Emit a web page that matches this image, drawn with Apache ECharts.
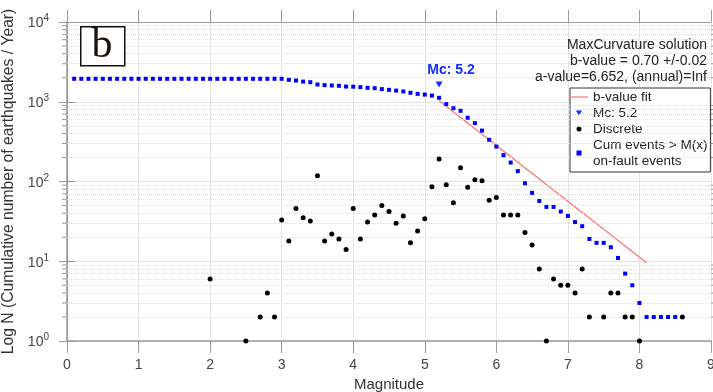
<!DOCTYPE html>
<html>
<head>
<meta charset="utf-8">
<script src="https://cdn.jsdelivr.net/npm/echarts@6/dist/echarts.min.js"></script>
<style>
html,body{margin:0;padding:0;background:#fff;}
#c{width:713px;height:392px;}
</style>
</head>
<body>
<div id="c"></div>
<script>
// ---- data ----
var xTicks = [0,1,2,3,4,5,6,7,8,9];
var yTickExp = [0,1,2,3,4];

// cumulative events > M(x), [magnitude, N/yr]
var cumMag = [0.1,0.2,0.3,0.4,0.5,0.6,0.7,0.8,0.9,1.0,
              1.1,1.2,1.3,1.4,1.5,1.6,1.7,1.8,1.9,2.0,
              2.1,2.2,2.3,2.4,2.5,2.6,2.7,2.8,2.9,3.0,
              3.1,3.2,3.3,3.4,3.5,3.6,3.7,3.8,3.9,4.0,
              4.1,4.2,4.3,4.4,4.5,4.6,4.7,4.8,4.9,5.0,
              5.1,5.2,5.3,5.4,5.5,5.6,5.7,5.8,5.9,6.0,
              6.1,6.2,6.3,6.4,6.5,6.6,6.7,6.8,6.9,7.0,
              7.1,7.2,7.3,7.4,7.5,7.6,7.7,7.8,7.9,8.0,
              8.1,8.2,8.3,8.4,8.5];
var cumN = [1940,1940,1940,1940,1940,1940,1940,1940,1940,1940,
            1940,1940,1940,1940,1940,1940,1940,1940,1940,1940,
            1940,1940,1940,1940,1940,1940,1940,1940,1940,1940,
            1880,1845,1790,1760,1645,1615,1600,1585,1550,1545,
            1525,1495,1480,1440,1410,1380,1345,1295,1255,1230,
            1195,1120,935,830,770,630,540,435,333,274,
            214,173,135,95,72,57,48,48,42,37,
            31,27.5,19,17,17,15,11,7,5,3,
            2,2,2,2,2];

// discrete events per bin
var discMag = [2.0,2.5,2.7,2.8,2.9,3.0,3.1,3.2,3.3,3.4,3.5,3.6,3.7,3.8,3.9,
               4.0,4.1,4.2,4.3,4.4,4.5,4.6,4.7,4.8,4.9,5.0,5.1,5.2,5.3,5.4,
               5.5,5.6,5.7,5.8,5.9,6.0,6.1,6.2,6.3,6.4,6.5,6.6,6.7,6.8,6.9,
               7.0,7.1,7.2,7.3,7.5,7.6,7.7,7.8,7.9,8.0,8.6];
var discN = [6,1,2,4,2,33,18,46,35,32,118,18,22,19,14,
             46,19,31,38,50,42,30,37,17,24,34,86,192,91,54,
             149,85,105,102,58,63,38,38,38,23,16,8,1,6,5,
             5,4,8,2,2,4,4,2,2,1,2];

// b-value fit line end points
var fitMag = [5.2, 8.1];
var fitN = [1030, 9.6];

// Mc marker
var mcMag = [5.2];
var mcN = [1645];

var annotLines = ['MaxCurvature solution', 'b-value = 0.70 +/-0.02', 'a-value=6.652, (annual)=Inf'];
var legendNames = ['b-value fit', 'Mc: 5.2', 'Discrete', 'Cum events > M(x)\non-fault events'];

// minor log ticks (2..9 x 10^k)
var minorVals = [];
for (var k = 0; k < 4; k++) for (var m = 2; m <= 9; m++) minorVals.push(m * Math.pow(10, k));

function zip(a, b) { return a.map(function (v, i) { return [v, b[i]]; }); }

var FONT = 'Liberation Sans, Arial, sans-serif';
var axisCol = '#9a9a9a';
var gridCol = '#e4e4e4';
var tri = 'path://M0,0 L10,0 L5,8 Z';
var sq = 'path://M0,0 L10,0 L10,10 L0,10 Z';
var dash = 'path://M0,0 L180,0 L180,12 L0,12 Z';

var chart = echarts.init(document.getElementById('c'));
chart.setOption({
  animation: false,
  backgroundColor: '#fff',
  textStyle: { fontFamily: FONT },
  grid: { left: 67, right: 2, top: 22, bottom: 51, containLabel: false, outerBoundsMode: 'none' },
  xAxis: [{
    type: 'value', min: 0, max: 9, interval: 1, position: 'bottom',
    name: 'Magnitude', nameLocation: 'middle', nameGap: 33,
    nameTextStyle: { fontSize: 15, color: '#333', fontFamily: FONT },
    axisLine: { show: true, lineStyle: { color: axisCol, width: 1.5 } },
    axisTick: { show: true, inside: false, length: 12, lineStyle: { color: axisCol } },
    axisLabel: { margin: 17, fontSize: 14, color: '#444', fontFamily: FONT,
      formatter: function (v) { return xTicks.indexOf(v) >= 0 ? String(v) : ''; } },
    splitLine: { show: true, lineStyle: { color: gridCol, width: 1 } }
  }, {
    type: 'value', min: 0, max: 9, interval: 1, position: 'top',
    axisLine: { show: true, lineStyle: { color: axisCol, width: 1.2 } },
    axisTick: { show: true, inside: false, length: 12, lineStyle: { color: axisCol } },
    axisLabel: { show: false }, splitLine: { show: false }
  }],
  yAxis: [{
    type: 'log', logBase: 10, min: 1, max: 10000, position: 'left',
    name: 'Log N (Cumulative number of earthquakes / Year)', nameLocation: 'middle', nameGap: 34,
    nameTextStyle: { fontSize: 15.7, color: '#333', fontFamily: FONT },
    axisLine: { show: true, lineStyle: { color: axisCol, width: 1.5 } },
    axisTick: { show: true, inside: false, length: 8, lineStyle: { color: axisCol } },
    axisLabel: { margin: 18, color: '#444', fontFamily: FONT,
      formatter: function (v) {
        var e = Math.round(Math.log(v) / Math.LN10);
        return yTickExp.indexOf(e) >= 0 ? '{b|10}{s|' + e + '}' : '';
      },
      rich: {
        b: { fontSize: 14, color: '#444', fontFamily: FONT, verticalAlign: 'bottom' },
        s: { fontSize: 10, color: '#444', fontFamily: FONT, verticalAlign: 'bottom', padding: [0, 0, 7, 0] }
      } },
    splitLine: { show: true, lineStyle: { color: gridCol, width: 1 } }
  }, {
    type: 'log', logBase: 10, min: 1, max: 10000, position: 'right',
    axisLine: { show: true, lineStyle: { color: axisCol, width: 1.2 } },
    axisTick: { show: true, inside: false, length: 8, lineStyle: { color: axisCol } },
    axisLabel: { show: false }, splitLine: { show: false }
  }],
  legend: {
    orient: 'vertical', left: 570, top: 88,
    padding: [1, 3, 3, 0], itemGap: 0, itemWidth: 18, itemHeight: 5,
    borderColor: '#333', borderWidth: 1, borderRadius: 0, backgroundColor: '#fff',
    textStyle: { fontSize: 13.5, lineHeight: 16, color: '#222', fontFamily: FONT },
    data: [
      { name: legendNames[0], icon: dash, itemStyle: { color: '#ff7070' } },
      { name: legendNames[1], icon: tri },
      { name: legendNames[2], icon: 'circle' },
      { name: legendNames[3], icon: sq }
    ]
  },
  graphic: [
    { type: 'rect', left: 80, top: 26, shape: { width: 44, height: 39 },
      style: { fill: '#fff', stroke: '#111', lineWidth: 1.5 }, z: 100 },
    { type: 'text', x: 102, y: 46, z: 101,
      style: { text: 'b', fontFamily: 'Liberation Serif, DejaVu Serif, serif', fontSize: 42,
        fill: '#1a1208', align: 'center', verticalAlign: 'middle' } },
    { type: 'text', x: 707, y: 45, z: 50,
      style: { text: annotLines[0], fontFamily: FONT, fontSize: 14, fill: '#222', align: 'right', verticalAlign: 'middle' } },
    { type: 'text', x: 707, y: 61, z: 50,
      style: { text: annotLines[1], fontFamily: FONT, fontSize: 14, fill: '#222', align: 'right', verticalAlign: 'middle' } },
    { type: 'text', x: 707, y: 77, z: 50,
      style: { text: annotLines[2], fontFamily: FONT, fontSize: 14, fill: '#222', align: 'right', verticalAlign: 'middle' } }
  ],
  series: [
    { name: 'minorL', type: 'scatter', xAxisIndex: 0, yAxisIndex: 0, silent: true, clip: false,
      symbol: 'rect', symbolSize: [5, 1], symbolOffset: [-2.5, 0],
      itemStyle: { color: axisCol, opacity: 1 }, data: minorVals.map(function (v) { return [0, v]; }),
      markLine: { silent: true, symbol: 'none', label: { show: false },
        lineStyle: { type: 'dotted', color: '#dedede', width: 1 },
        data: minorVals.map(function (v) { return { yAxis: v }; }) } },
    { name: 'minorR', type: 'scatter', xAxisIndex: 0, yAxisIndex: 0, silent: true, clip: false,
      symbol: 'rect', symbolSize: [5, 1], symbolOffset: [2.5, 0],
      itemStyle: { color: axisCol, opacity: 1 }, data: minorVals.map(function (v) { return [9, v]; }) },
    { name: legendNames[0], type: 'line', xAxisIndex: 0, yAxisIndex: 0, symbol: 'none', showSymbol: false,
      lineStyle: { color: '#ff7070', width: 1.2 }, itemStyle: { color: '#ff7070' },
      data: zip(fitMag, fitN), z: 3 },
    { name: legendNames[1], type: 'scatter', xAxisIndex: 0, yAxisIndex: 0, clip: false,
      symbol: tri, symbolSize: [7, 6], itemStyle: { color: '#1030ff', opacity: 1 },
      label: { show: true, position: 'top', distance: 4, offset: [12, 0], formatter: 'Mc: 5.2',
        fontSize: 14, fontWeight: 'bold', color: '#1030ff', fontFamily: FONT },
      data: zip(mcMag, mcN), z: 4 },
    { name: legendNames[2], type: 'scatter', xAxisIndex: 0, yAxisIndex: 0, clip: false,
      symbol: 'circle', symbolSize: 5, itemStyle: { color: '#000', opacity: 1 },
      data: zip(discMag, discN), z: 5 },
    { name: legendNames[3], type: 'scatter', xAxisIndex: 0, yAxisIndex: 0, clip: false,
      symbol: 'rect', symbolSize: 4, itemStyle: { color: '#0000ff', opacity: 1 },
      data: zip(cumMag, cumN), z: 5 }
  ]
});
</script>
</body>
</html>
